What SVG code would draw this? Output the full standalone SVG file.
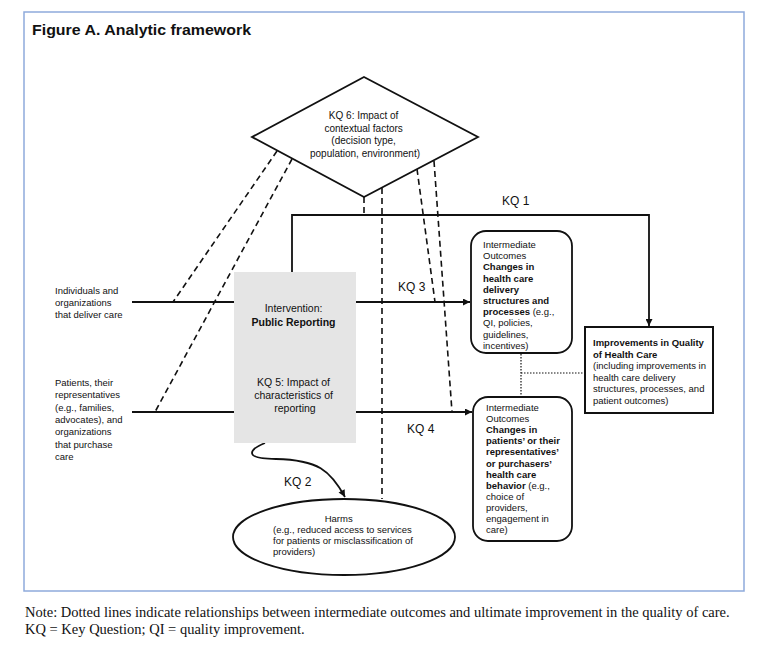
<svg xmlns="http://www.w3.org/2000/svg" width="760" height="648" viewBox="0 0 760 648">
<defs>
<style>
.t{font-family:"Liberation Sans",Arial,sans-serif;fill:#111;}
.s95{font-size:9.5px;}
.s10{font-size:10px;}
.kq{font-size:12px;}
.b{font-weight:bold;}
.ln{stroke:#111;stroke-width:1.8;fill:none;}
.dash{stroke:#111;stroke-width:1.6;fill:none;stroke-dasharray:6 4;}
.dot{stroke:#111;stroke-width:1.2;fill:none;stroke-dasharray:1.5 1.5;}
.note{font-family:"Liberation Serif","Times New Roman",serif;font-size:14.5px;fill:#111;}
</style>
<marker id="arrL" viewBox="0 0 10 10" refX="10" refY="5" markerWidth="8" markerHeight="7" markerUnits="userSpaceOnUse" orient="auto">
<path d="M0,0 L10,5 L0,10 z" fill="#111"/>
</marker>
</defs>
<rect x="0" y="0" width="760" height="648" fill="#fff"/>
<rect x="24" y="12" width="720" height="579" fill="#fff" stroke="#8eaadb" stroke-width="1.5"/>
<text class="t b" x="32" y="35" font-size="15.5" textLength="219" lengthAdjust="spacingAndGlyphs">Figure A. Analytic framework</text>

<g id="connectors">
<line class="ln" x1="132" y1="302" x2="470" y2="302" marker-end="url(#arrL)"/>
<line class="ln" x1="132" y1="412" x2="472" y2="412" marker-end="url(#arrL)"/>
<polyline class="ln" points="292,272 292,215 649,215 649,326" marker-end="url(#arrL)"/>
<line class="dash" x1="277" y1="151" x2="173" y2="302"/>
<line class="dash" x1="292" y1="159" x2="155" y2="412"/>
<line class="dash" x1="364" y1="197" x2="364" y2="215"/>
<line class="dash" x1="382" y1="188" x2="382" y2="499"/>
<line class="dash" x1="417" y1="169" x2="435" y2="302"/>
<line class="dash" x1="434" y1="161" x2="452" y2="412"/>
<polyline class="dot" points="521,354 521,396"/>
<polyline class="dot" points="521,373 585,373"/>
<path class="ln" d="M265,443 C248,450 244,459 276,459 C318,460 330,470 345,497" marker-end="url(#arrL)"/>
<text class="t kq" x="502" y="205">KQ 1</text>
<text class="t kq" x="398" y="291">KQ 3</text>
<text class="t kq" x="407" y="433">KQ 4</text>
<text class="t kq" x="284" y="486">KQ 2</text>
</g>

<g id="kq6">
<polygon points="364,77 478,137 364,197 252,137" fill="#fff" stroke="#111" stroke-width="1.8"/>
<text class="t s10" text-anchor="middle">
<tspan x="365" y="119">KQ 6: Impact of</tspan>
<tspan x="365" y="131.5">contextual factors</tspan>
<tspan x="365" y="144">(decision type,</tspan>
<tspan x="365" y="156.5">population, environment)</tspan>
</text>
</g>

<g id="providers">
<text class="t s95">
<tspan x="55" y="294">Individuals and</tspan>
<tspan x="55" y="306">organizations</tspan>
<tspan x="55" y="318">that deliver care</tspan>
</text>
</g>

<g id="patients">
<text class="t s95">
<tspan x="55" y="386">Patients, their</tspan>
<tspan x="55" y="398.3">representatives</tspan>
<tspan x="55" y="410.6">(e.g., families,</tspan>
<tspan x="55" y="422.9">advocates), and</tspan>
<tspan x="55" y="435.2">organizations</tspan>
<tspan x="55" y="447.5">that purchase</tspan>
<tspan x="55" y="459.8">care</tspan>
</text>
</g>

<g id="intervention">
<rect x="234" y="272" width="122" height="171" fill="#e5e5e5"/>
<text class="t" text-anchor="middle" font-size="10.5">
<tspan x="295" y="312">Intervention:</tspan>
<tspan x="295" y="326" font-weight="bold">Public Reporting</tspan>
<tspan x="295" y="386">KQ 5: Impact of</tspan>
<tspan x="295" y="399">characteristics of</tspan>
<tspan x="295" y="412">reporting</tspan>
</text>
</g>

<g id="io1">
<rect x="471" y="231" width="101" height="122" rx="15" ry="15" fill="#fff" stroke="#111" stroke-width="1.8"/>
<text class="t s95">
<tspan x="483" y="248">Intermediate</tspan>
<tspan x="483" y="259.2">Outcomes</tspan>
<tspan x="483" y="270.4" class="b">Changes in</tspan>
<tspan x="483" y="281.6" class="b">health care</tspan>
<tspan x="483" y="292.8" class="b">delivery</tspan>
<tspan x="483" y="304" class="b">structures and</tspan>
<tspan x="483" y="315.2"><tspan class="b">processes</tspan> (e.g.,</tspan>
<tspan x="483" y="326.4">QI, policies,</tspan>
<tspan x="483" y="337.6">guidelines,</tspan>
<tspan x="483" y="348.8">incentives)</tspan>
</text>
</g>

<g id="io2">
<rect x="473" y="397" width="99" height="144" rx="15" ry="15" fill="#fff" stroke="#111" stroke-width="1.8"/>
<text class="t s95">
<tspan x="486" y="411">Intermediate</tspan>
<tspan x="486" y="422.1">Outcomes</tspan>
<tspan x="486" y="433.2" class="b">Changes in</tspan>
<tspan x="486" y="444.3" class="b">patients’ or their</tspan>
<tspan x="486" y="455.4" class="b">representatives’</tspan>
<tspan x="486" y="466.5" class="b">or purchasers’</tspan>
<tspan x="486" y="477.6" class="b">health care</tspan>
<tspan x="486" y="488.7"><tspan class="b">behavior</tspan> (e.g.,</tspan>
<tspan x="486" y="499.8">choice of</tspan>
<tspan x="486" y="510.9">providers,</tspan>
<tspan x="486" y="522">engagement in</tspan>
<tspan x="486" y="533.1">care)</tspan>
</text>
</g>

<g id="quality">
<rect x="585" y="327" width="128" height="86" fill="#fff" stroke="#111" stroke-width="2"/>
<text class="t s95">
<tspan x="593" y="346" class="b">Improvements in Quality</tspan>
<tspan x="593" y="357.5" class="b">of Health Care</tspan>
<tspan x="593" y="369">(including improvements in</tspan>
<tspan x="593" y="380.5">health care delivery</tspan>
<tspan x="593" y="392">structures, processes, and</tspan>
<tspan x="593" y="403.5">patient outcomes)</tspan>
</text>
</g>

<g id="harms">
<ellipse cx="344" cy="537" rx="111" ry="38" fill="#fff" stroke="#111" stroke-width="1.8"/>
<text class="t s95">
<tspan x="340" y="521.5" text-anchor="middle">Harms</tspan>
<tspan x="273" y="532.5">(e.g., reduced access to services</tspan>
<tspan x="273" y="543.5">for patients or misclassification of</tspan>
<tspan x="273" y="554.5">providers)</tspan>
</text>
</g>

<text class="note" x="25" y="617">Note: Dotted lines indicate relationships between intermediate outcomes and ultimate improvement in the quality of care.</text>
<text class="note" x="25" y="634">KQ = Key Question; QI = quality improvement.</text>
</svg>
